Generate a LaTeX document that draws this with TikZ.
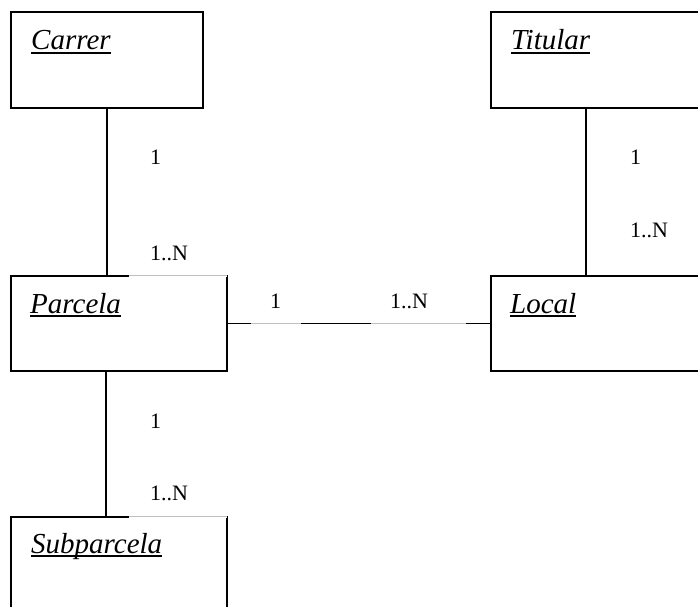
\documentclass[tikz,border=0pt]{standalone}
\usepackage{fontspec}
\setmainfont{Liberation Serif}
\usetikzlibrary{calc}
\newcommand\myul[1]{\setbox0\hbox{#1}\rlap{\rule[-4.2bp]{\wd0}{1.8bp}}\box0}
\begin{document}
\begin{tikzpicture}[x=1bp,y=-1bp,
  ent/.style={draw, line width=1.8bp, inner sep=0pt},
  conn/.style={line width=1.8bp},
  title/.style={anchor=base west, inner sep=0pt, font=\fontsize{29bp}{34bp}\selectfont\itshape},
  card/.style={anchor=base west, inner sep=0pt, font=\fontsize{22bp}{26bp}\selectfont},
  erase/.style={white, line width=3.5bp},
  faint/.style={draw=black!25, line width=0.9bp}]
\useasboundingbox (0,0) rectangle (698,607);
\clip (0,0) rectangle (698,607);
\fill[white] (0,0) rectangle (698,607);

% entity boxes
\node[ent, minimum width=192bp, minimum height=96bp] (carrer) at (107,60) {};
\node[ent, minimum width=239bp, minimum height=96bp] (titular) at (610.5,60) {};
\node[ent, minimum width=216bp, minimum height=95bp] (parcela) at (119,323.5) {};
\node[ent, minimum width=239bp, minimum height=95bp] (local) at (610.5,323.5) {};
\node[ent, minimum width=216bp, minimum height=123bp] (subparcela) at (119,578.5) {};

% connectors
\draw[conn] (carrer.south) -- (carrer.south |- parcela.north);
\draw[conn] ([xshift=96bp]titular.south west) -- ([xshift=96bp]local.north west);
\draw[conn] ([xshift=96bp]parcela.south west) -- ([xshift=96bp]subparcela.north west);
\draw[conn] (parcela.east) -- (local.west);

% white label boxes that hide parts of lines
\coordinate (pa) at ([xshift=119bp]parcela.north west);
\coordinate (sa) at ([xshift=119bp]subparcela.north west);
\coordinate (h1a) at ($(parcela.east)+(23,0)$);
\coordinate (h1b) at ($(parcela.east)+(73,0)$);
\coordinate (h2a) at ($(parcela.east)+(143,0)$);
\coordinate (h2b) at ($(local.west)+(-24,0)$);
\draw[erase] (pa) -- ([xshift=-0.9bp]parcela.north east);
\draw[erase] (sa) -- ([xshift=-0.9bp]subparcela.north east);
\draw[erase] (h1a) -- (h1b);
\draw[erase] (h2a) -- (h2b);
\draw[faint] (pa) -- ([xshift=-0.9bp]parcela.north east);
\draw[faint] (sa) -- ([xshift=-0.9bp]subparcela.north east);
\draw[faint] (h1a) -- (h1b);
\draw[faint] (h2a) -- (h2b);

% titles
\node[title] (tcarrer) at (31,50) {\myul{Carrer}};
\node[title] (ttitular) at (511,50) {\myul{Titular}};
\node[title] (tparcela) at (30,313) {\myul{Parcela}};
\node[title] (tlocal) at (510,313) {\myul{Local}};
\node[title] (tsub) at (31,553) {\myul{Subparcela}};

% cardinalities
\node[card] (c1) at (150,165) {1};
\node[card] (c2) at (150,260) {1..N};
\node[card] (c3) at (630,165) {1};
\node[card] (c4) at (630,237) {1..N};
\node[card] (c5) at (270,308) {1};
\node[card] (c6) at (390,308) {1..N};
\node[card] (c7) at (150,428) {1};
\node[card] (c8) at (150,500) {1..N};
\end{tikzpicture}
\end{document}
